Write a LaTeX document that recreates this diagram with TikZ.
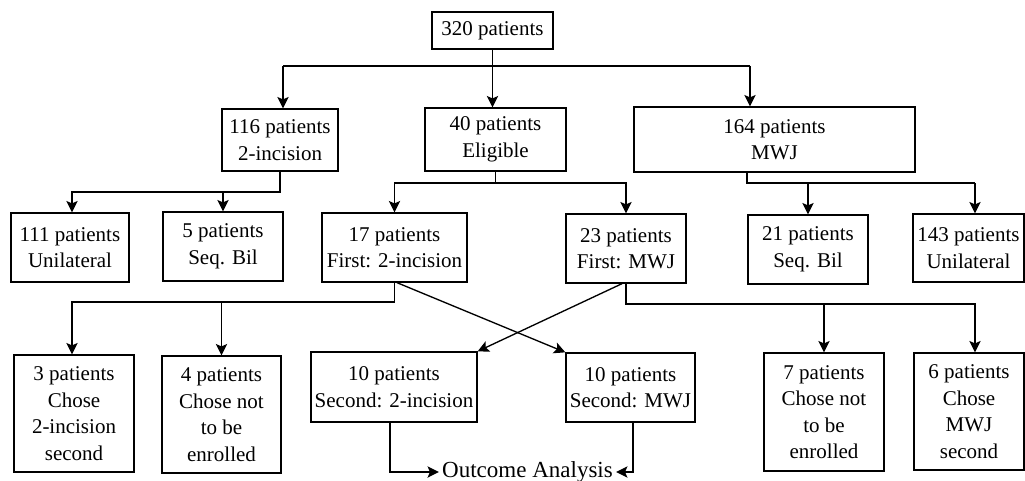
\documentclass[tikz,border=0pt]{standalone}
\usepackage{fontspec}
\setmainfont{Liberation Serif}
\usetikzlibrary{arrows.meta,calc}
\begin{document}
\begin{tikzpicture}[x=0.75pt,y=-0.75pt,
  font=\fontsize{15.75pt}{19.9pt}\selectfont,
  line width=1pt,
  box/.style n args={2}{draw, minimum width=#1*0.75pt, minimum height=#2*0.75pt, inner sep=0pt, align=center},
  arr/.style={-{Stealth[length=8.5pt,width=8.5pt,inset=1.8pt]}}]
\useasboundingbox (0,0) rectangle (1025,481);
% nodes
\node[box={121}{37}] (top) at (492.5,30.5) {320 patients};
\node[box={116}{62}] (n116) at (280,140) {116 patients\\2-incision};
\node[box={141}{63}] (n40) at (495.5,139.5) {40 patients\\Eligible};
\node[box={281}{65}] (n164) at (774.5,139.5) {164 patients\\MWJ};
\node[box={118}{69}] (n111) at (70,247.5) {111 patients\\Unilateral};
\node[box={120}{69}] (n5) at (223,246.5) {5 patients\\Seq. Bil};
\node[box={145}{69}] (n17) at (394.5,247.5) {17 patients\\First: 2-incision};
\node[box={120}{69}] (n23) at (626,248.5) {23 patients\\First: MWJ};
\node[box={120}{69}] (n21) at (808,249.5) {21 patients\\Seq. Bil};
\node[box={111}{68}] (n143) at (968.5,248) {143 patients\\Unilateral};
\node[box={120}{117}] (n3) at (74,413.5) {3 patients\\Chose\\2-incision\\second};
\node[box={119}{117}] (n4) at (221.5,414.5) {4 patients\\Chose not\\to be\\enrolled};
\node[box={166}{70}] (n10a) at (394,387) {10 patients\\Second: 2-incision};
\node[box={129}{69}] (n10b) at (630.5,387.5) {10 patients\\Second: MWJ};
\node[box={120}{118}] (n7) at (824,412) {7 patients\\Chose not\\to be\\enrolled};
\node[box={110}{117}] (n6) at (969,411.5) {6 patients\\Chose\\MWJ\\second};
\node[inner sep=0pt, inner xsep=2pt, font=\fontsize{17.25pt}{20pt}\selectfont] (out) at (527.5,472) {Outcome Analysis};
% junction coordinates
\coordinate (a1) at (283,66);
\coordinate (a2) at (750,66);
\coordinate (b1) at (72,192);
\coordinate (c1) at (394,183);
\coordinate (d1) at (747,183);
\coordinate (d2) at (975,183);
\coordinate (e1) at (72,302);
\coordinate (f1) at (975,304);
% level 1
\draw (top.south) -- (top.south |- a1);
\draw (a1) -- (a2);
\draw[arr] (a1) -- (a1 |- n116.north);
\draw[arr] (top.south) -- (top.south |- n40.north);
\draw[arr] (a2) -- (a2 |- n164.north);
% level 2
\draw[arr] (n116.south) |- (b1) -- (b1 |- n111.north);
\draw[arr] (n5.north |- b1) -- (n5.north);
\draw[arr] (n40.south) -- (n40.south |- c1) -| (n17.north);
\draw[arr] (n40.south |- c1) -| (n23.north);
\draw (n164.south -| d1) -- (d1) -- (d2);
\draw[arr] (n21.north |- d1) -- (n21.north);
\draw[arr] (d2) -- (d2 |- n143.north);
% level 3
\draw[arr] (n17.south) |- (e1) -- (e1 |- n3.north);
\draw[arr] (n4.north |- e1) -- (n4.north);
\draw[arr] (n23.south) |- (f1) -- (f1 |- n6.north);
\draw[arr] (n7.north |- f1) -- (n7.north);
% cross
\draw[arr] ($(n17.south)+(2.5,0)$) -- (n10b.north west);
\draw[arr] ($(n23.south)+(-4,0)$) -- (n10a.north east);
% outcome
\draw[arr] ($(n10a.south)+(-4,0)$) |- (out.west);
\draw[arr] ($(n10b.south)+(2.5,0)$) |- (out.east);
\end{tikzpicture}
\end{document}
